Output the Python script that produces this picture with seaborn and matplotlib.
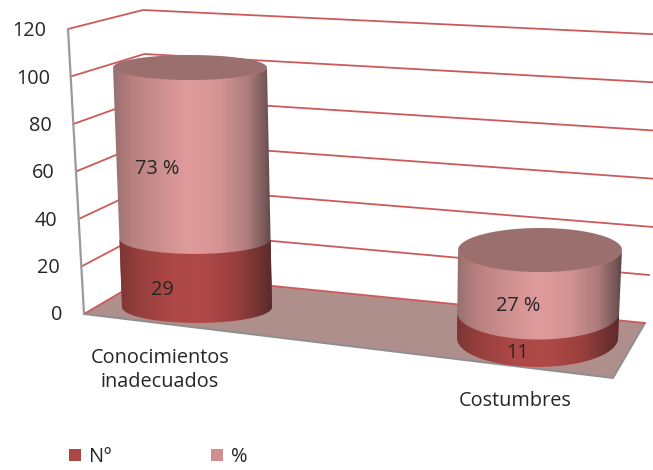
import numpy as np
import pandas as pd
import matplotlib
matplotlib.use("Agg")
import matplotlib.pyplot as plt
from matplotlib.colors import LinearSegmentedColormap
from matplotlib.path import Path
from matplotlib.transforms import Affine2D, ScaledTranslation
import seaborn as sns

# ---- data ----
categorias = ["Conocimientos\ninadecuados", "Costumbres"]
valores_n = [29, 11]
valores_pct = [73, 27]
etiquetas_n = ["29", "11"]
etiquetas_pct = ["73 %", "27 %"]
ticks_y = [0, 20, 40, 60, 80, 100, 120]

# ---- layout in reference pixels ----
W, H = 653, 470
cx_base, cx_top = [197, 537.5], [190, 540]
rx_base, rx_top = [75, 80.5], [77, 82]
y_base, y_top = [307, 338], [67.5, 250]
ry_base, ry_top = [16, 29], [12.5, 22]
pos_n = [(162, 290), (517, 353)]
pos_pct = [(157, 169), (518, 306)]
desvio_ticks = [0, 2, 5, 7, 10, 12, 16]

sns.set_theme(style="white")
plt.rcParams["font.family"] = ["Open Sans", "DejaVu Sans"]
TXT = "#262626"
FS = 14.3

fig = plt.figure(figsize=(W / 100, H / 100), dpi=100)
pix = fig.add_axes([0, 0, 1, 1])
pix.set_xlim(0, W)
pix.set_ylim(H, 0)
pix.axis("off")

# ---- walls ----
front_l = lambda v: (84 - 16 * v / 120, 314 - 285 * v / 120)
back_l = lambda v: (152 - 9 * v / 120, 274 - 264 * v / 120)
back_r = lambda v: (645 + 25 * v / 120, 323 - 288 * v / 120)

fx0, fy0 = front_l(0)
bx0, by0 = back_l(0)
rx0, ry0 = back_r(0)
pix.fill([fx0, 613, rx0, bx0], [fy0, 378, ry0, by0], color="#AF8F8B", lw=0, zorder=1)
pix.plot([fx0, 613, rx0], [fy0, 378, ry0], color="#8E8E8E", lw=1.4, zorder=2)
GRID = "#CC5A5A"
for v in ticks_y:
    fx, fy = front_l(v)
    bx, by = back_l(v)
    rx, ry = back_r(v)
    pix.plot([fx, bx, rx], [fy, by, ry], color=GRID, lw=1.3, zorder=3, clip_on=True)
pix.plot([68, 84], [29, 314], color="#9A9A9A", lw=1.6, zorder=4)

# ---- chart axes ----
ax = fig.add_axes([62 / W, 1 - 313 / H, (W - 62) / W, (313 - 29) / H])
ax.patch.set_alpha(0)
df = pd.DataFrame({
    "categoria": categorias * 2,
    "serie": ["%"] * 2 + ["Nº"] * 2,
    "altura": [a + b for a, b in zip(valores_n, valores_pct)] + valores_n,
})
sns.barplot(data=df, x="categoria", y="altura", hue="serie", dodge=False,
            hue_order=["%", "Nº"], palette={"%": "#D08F8F", "Nº": "#AD4745"},
            ax=ax, saturation=1, legend=True, width=0.8, zorder=5, linewidth=0)
handles, labels = ax.get_legend_handles_labels()
ax.get_legend().remove()

cmap_up = LinearSegmentedColormap.from_list("up", [
    (0, "#97706F"), (0.12, "#B98080"), (0.30, "#CD8F8F"), (0.48, "#E09C9D"),
    (0.68, "#D49393"), (0.85, "#AE7C7C"), (0.95, "#7D5C5C"), (1, "#5F4847")])
cmap_lo = LinearSegmentedColormap.from_list("lo", [
    (0, "#7C3634"), (0.12, "#953F3D"), (0.35, "#AE4846"), (0.55, "#B04A47"),
    (0.78, "#973F3D"), (0.92, "#6F3230"), (1, "#5C2B2A")])


def ring(i, v, total):
    t = v / total
    cx = cx_base[i] + t * (cx_top[i] - cx_base[i])
    rx = rx_base[i] + t * (rx_top[i] - rx_base[i])
    cy = y_base[i] + t * (y_top[i] - y_base[i])
    ry = ry_base[i] + t * (ry_top[i] - ry_base[i])
    return cx, rx, cy, ry


def arc(i, v, total, a0, a1):
    cx, rx, cy, ry = ring(i, v, total)
    th = np.linspace(a0, a1, 80)
    return np.column_stack([cx + rx * np.cos(th), cy + ry * np.sin(th)])


def cuerpo(i, v0, v1, total, cmap):
    lower = arc(i, v0, total, np.pi, 0)
    upper = arc(i, v1, total, 0, np.pi)
    pts = np.vstack([lower, upper, lower[:1]])
    x0, x1 = pts[:, 0].min(), pts[:, 0].max()
    im = ax.imshow(np.linspace(0, 1, 256)[None, :], cmap=cmap, aspect="auto",
                   extent=(x0, x1, pts[:, 1].max(), pts[:, 1].min()),
                   transform=pix.transData, zorder=6, interpolation="bilinear")
    im.set_clip_box(fig.bbox)
    im.set_clip_path(Path(pts), transform=pix.transData)


for i, (n, p) in enumerate(zip(valores_n, valores_pct)):
    total = n + p
    rmin = min(rx_base[i], rx_top[i])
    sx = rmin / 0.4
    shx = (cx_top[i] - cx_base[i]) / total
    sy = (y_base[i] - y_top[i]) / total
    aff = Affine2D(matrix=[[sx, shx, cx_base[i] - i * sx], [0, -sy, y_base[i]], [0, 0, 1]])
    for cont in ax.containers:
        bar = cont[i]
        bar.set_transform(aff + pix.transData)
        bar.set_clip_on(False)
    cuerpo(i, 0, total, total, cmap_up)
    cuerpo(i, 0, n, total, cmap_lo)
    tapa = arc(i, total, total, 0, 2 * np.pi)
    ax.fill(tapa[:, 0], tapa[:, 1], color="#9B6F6E", lw=0, zorder=7, transform=pix.transData)
    ax.text(*pos_pct[i], etiquetas_pct[i], ha="center", va="center", fontsize=FS,
            color=TXT, transform=pix.transData, zorder=9, clip_on=False)
    ax.text(*pos_n[i], etiquetas_n[i], ha="center", va="center", fontsize=FS,
            color=TXT, transform=pix.transData, zorder=9, clip_on=False)

# ---- axes scales and labels ----
ax.set_xlim(-98 / 355, 1 + 138 / 355)
ax.set_ylim(0, 120)
ax.set_yticks(ticks_y)
ax.set_xticks([0, 1])
ax.set_xticklabels(categorias, linespacing=1.3)
ax.set_xlabel("")
ax.set_ylabel("")
ax.tick_params(axis="y", length=0, pad=0, labelsize=FS, labelcolor=TXT)
ax.tick_params(axis="x", length=0, pad=25, labelsize=FS, labelcolor=TXT)
sns.despine(ax=ax, left=True, bottom=True)
lab2 = ax.get_xticklabels()[1]
lab2.set_transform(lab2.get_transform() + ScaledTranslation(0, -0.43, fig.dpi_scale_trans))
for lab, d in zip(ax.get_yticklabels(), desvio_ticks):
    lab.set_transform(lab.get_transform() + ScaledTranslation(-d / 100, 0, fig.dpi_scale_trans))

order = [labels.index("Nº"), labels.index("%")]
ax.legend([handles[k] for k in order], [labels[k] for k in order], ncol=2,
          loc="center left", bbox_to_anchor=(51 / W, 1 - 457 / H),
          bbox_transform=fig.transFigure, frameon=False, fontsize=FS,
          handlelength=0.62, handleheight=0.62, handletextpad=0.4,
          columnspacing=5.0, labelcolor=TXT)

fig.savefig("out.png", dpi=100)
